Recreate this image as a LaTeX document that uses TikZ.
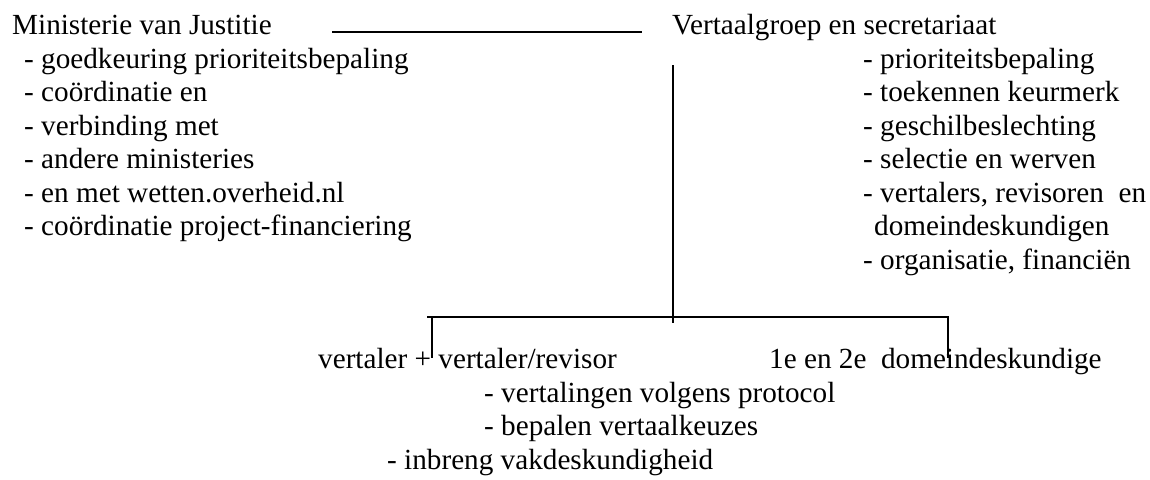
\documentclass[tikz,border=0pt]{standalone}
\usepackage{fontspec}
\setmainfont{Liberation Serif}
\begin{document}
\begin{tikzpicture}[x=1pt,y=-1pt,
  txt/.style={anchor=base west, inner sep=0pt, font=\fontsize{29.2}{33.5}\selectfont},
  conn/.style={line width=1.6pt}]
\useasboundingbox (0,0) rectangle (1150,479);
% left column
\node[txt] (min) at (12,34.5) {Ministerie van Justitie};
\node[txt] (l1) at (24,68) {- goedkeuring prioriteitsbepaling};
\node[txt] (l2) at (24,101.5) {- coördinatie en};
\node[txt] (l3) at (24,135) {- verbinding met};
\node[txt] (l4) at (24,168.5) {- andere ministeries};
\node[txt] (l5) at (24,202) {- en met wetten.overheid.nl};
\node[txt] (l6) at (24,235.5) {- coördinatie project-financiering};
% right column
\node[txt] (vg) at (672,34.5) {Vertaalgroep en secretariaat};
\node[txt] (r1) at (863,68) {- prioriteitsbepaling};
\node[txt] (r2) at (863,101.5) {- toekennen keurmerk};
\node[txt] (r3) at (863,135) {- geschilbeslechting};
\node[txt] (r4) at (863,168.5) {- selectie en werven};
\node[txt] (r5) at (863,202) {- vertalers, revisoren \ en};
\node[txt] (r6) at (874,235.5) {domeindeskundigen};
\node[txt] (r7) at (863,269) {- organisatie, financiën};
% bottom
\node[txt] (b1) at (318,368.5) {vertaler + vertaler/revisor};
\node[txt] (b2) at (769,368.5) {1e en 2e \ domeindeskundige};
\node[txt] (b3) at (484,402) {- vertalingen volgens protocol};
\node[txt] (b4) at (484,435.5) {- bepalen vertaalkeuzes};
\node[txt] (b5) at (387,469) {- inbreng vakdeskundigheid};
% connectors
\coordinate (tl) at (332,32);
\coordinate (tr) at (642,32);
\coordinate (vt) at (673,65);
\coordinate (vb) at (673,323);
\coordinate (bl) at (427,317);
\coordinate (br) at (949,317);
\coordinate (lt) at (432,317);
\coordinate (lb) at (432,358);
\coordinate (rt) at (948,317);
\coordinate (rb) at (948,358);
\draw[conn] (tl) -- (tr);
\draw[conn] (vt) -- (vb);
\draw[conn] (bl) -- (br);
\draw[conn] (lt) -- (lb);
\draw[conn] (rt) -- (rb);
\end{tikzpicture}
\end{document}
